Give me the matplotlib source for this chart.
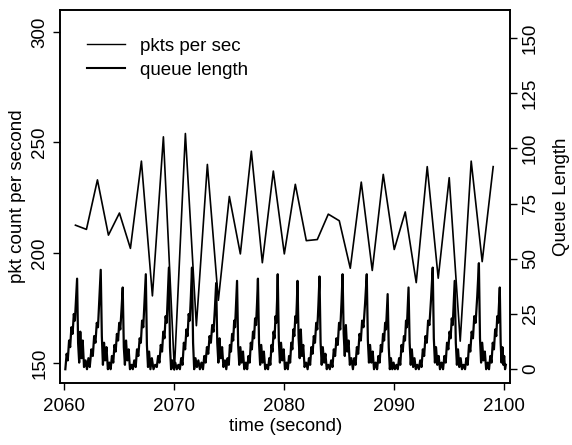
import matplotlib
matplotlib.use("Agg")
import matplotlib.pyplot as plt
from matplotlib.lines import Line2D

plt.rcParams["font.family"] = ["Liberation Sans", "DejaVu Sans"]
plt.rcParams["font.size"] = 13.5

# packets per second, one sample per second (left axis)
pkt_time = list(range(2061, 2100))
pkt_count = [212.5, 210.6, 233, 208, 218, 202, 241.5, 180.5, 252.5, 147,
             254, 167, 240, 178.5, 225.5, 199.5, 246, 195.5, 237, 199.5,
             231, 205.5, 206, 217.5, 214.5, 193, 232, 192, 235.5, 201.5,
             218.5, 186.5, 239, 188.5, 234, 160, 241.5, 196, 239]

# router queue length (right axis), one row per build-up / drain cycle
queue_time = [
    2060.08, 2060.20, 2060.30, 2060.42, 2060.52, 2060.63, 2060.74, 2060.85, 2060.95, 2061.05, 2061.15, 2061.24, 2061.34, 2061.44, 2061.55, 2061.66, 2061.78, 2061.92,
    2062.05, 2062.18, 2062.30, 2062.45, 2062.58, 2062.70, 2062.82, 2062.94, 2063.05, 2063.16, 2063.30, 2063.40, 2063.50, 2063.60, 2063.70, 2063.82, 2063.95, 2064.08,
    2064.20, 2064.32, 2064.44, 2064.55, 2064.66, 2064.77, 2064.88, 2064.98, 2065.08, 2065.19, 2065.30, 2065.40, 2065.50, 2065.60, 2065.72, 2065.84, 2065.96, 2066.10,
    2066.22, 2066.35, 2066.48, 2066.60, 2066.72, 2066.84, 2066.95, 2067.06, 2067.17, 2067.28, 2067.40, 2067.50, 2067.60, 2067.70, 2067.82, 2067.95, 2068.10, 2068.25,
    2068.40, 2068.52, 2068.64, 2068.76, 2068.88, 2068.99, 2069.10, 2069.20, 2069.30, 2069.40, 2069.50, 2069.60, 2069.70, 2069.82, 2069.95, 2070.08, 2070.22, 2070.36,
    2070.50, 2070.62, 2070.74, 2070.86, 2070.98, 2071.09, 2071.20, 2071.30, 2071.40, 2071.50, 2071.60, 2071.70, 2071.80, 2071.92, 2072.05, 2072.18, 2072.32, 2072.46,
    2072.60, 2072.72, 2072.84, 2072.96, 2073.08, 2073.20, 2073.32, 2073.44, 2073.56, 2073.68, 2073.80, 2073.90, 2074.00, 2074.10, 2074.22, 2074.34, 2074.46, 2074.60,
    2074.72, 2074.84, 2074.95, 2075.05, 2075.15, 2075.25, 2075.35, 2075.44, 2075.52, 2075.61, 2075.70, 2075.80, 2075.90, 2076.00, 2076.12, 2076.24, 2076.36, 2076.50,
    2076.62, 2076.74, 2076.85, 2076.95, 2077.05, 2077.15, 2077.25, 2077.34, 2077.43, 2077.52, 2077.60, 2077.70, 2077.80, 2077.90, 2078.02, 2078.14, 2078.26, 2078.40,
    2078.52, 2078.63, 2078.73, 2078.83, 2078.93, 2079.02, 2079.11, 2079.20, 2079.27, 2079.34, 2079.40, 2079.50, 2079.60, 2079.70, 2079.82, 2079.94, 2080.06, 2080.20,
    2080.32, 2080.43, 2080.53, 2080.63, 2080.73, 2080.82, 2080.91, 2081.00, 2081.07, 2081.14, 2081.20, 2081.30, 2081.40, 2081.50, 2081.60, 2081.72, 2081.84, 2081.98,
    2082.12, 2082.24, 2082.35, 2082.46, 2082.57, 2082.68, 2082.79, 2082.90, 2083.00, 2083.10, 2083.20, 2083.30, 2083.40, 2083.50, 2083.62, 2083.74, 2083.86, 2084.00,
    2084.14, 2084.26, 2084.38, 2084.50, 2084.62, 2084.74, 2084.86, 2084.98, 2085.09, 2085.20, 2085.30, 2085.40, 2085.50, 2085.60, 2085.72, 2085.84, 2085.96, 2086.10,
    2086.24, 2086.36, 2086.48, 2086.60, 2086.72, 2086.84, 2086.96, 2087.08, 2087.20, 2087.35, 2087.50, 2087.60, 2087.70, 2087.80, 2087.92, 2088.04, 2088.16, 2088.30,
    2088.44, 2088.56, 2088.67, 2088.78, 2088.88, 2088.98, 2089.08, 2089.17, 2089.25, 2089.33, 2089.40, 2089.50, 2089.60, 2089.70, 2089.82, 2089.94, 2090.06, 2090.20,
    2090.32, 2090.44, 2090.55, 2090.66, 2090.77, 2090.88, 2090.98, 2091.07, 2091.15, 2091.23, 2091.30, 2091.40, 2091.50, 2091.60, 2091.72, 2091.84, 2091.96, 2092.10,
    2092.24, 2092.36, 2092.48, 2092.60, 2092.72, 2092.84, 2092.96, 2093.08, 2093.20, 2093.35, 2093.50, 2093.60, 2093.70, 2093.80, 2093.92, 2094.04, 2094.16, 2094.30,
    2094.44, 2094.56, 2094.68, 2094.80, 2094.92, 2095.03, 2095.13, 2095.23, 2095.32, 2095.41, 2095.50, 2095.60, 2095.70, 2095.80, 2095.92, 2096.04, 2096.16, 2096.30,
    2096.44, 2096.56, 2096.68, 2096.80, 2096.92, 2097.04, 2097.16, 2097.28, 2097.40, 2097.55, 2097.70, 2097.80, 2097.90, 2098.00, 2098.12, 2098.24, 2098.36, 2098.50,
    2098.62, 2098.74, 2098.85, 2098.96, 2099.07, 2099.18, 2099.28, 2099.37, 2099.45, 2099.53, 2099.60, 2099.68, 2099.76, 2099.84, 2099.92, 2100.00, 2100.08, 2100.15,
]
queue_len = [
    0, 7, 4, 13, 10, 19, 16, 25, 22, 32, 41, 12, 3, 17, 5, 13, 1, 4,
    0, 5, 1, 9, 6, 15, 12, 21, 19, 30, 45, 15, 2, 12, 4, 10, 0, 3,
    0, 6, 3, 11, 8, 16, 13, 21, 18, 27, 37, 10, 2, 13, 4, 9, 0, 2,
    0, 4, 1, 9, 6, 14, 12, 22, 19, 30, 43, 11, 1, 8, 0, 5, 0, 2,
    1, 6, 3, 11, 8, 17, 14, 24, 21, 33, 46, 10, 0, 4, 0, 3, 0, 2,
    0, 5, 2, 12, 9, 18, 15, 25, 22, 33, 46, 12, 0, 5, 1, 4, 0, 3,
    0, 6, 3, 10, 7, 15, 12, 20, 17, 27, 39, 12, 3, 14, 5, 10, 1, 4,
    0, 5, 2, 11, 8, 16, 13, 22, 19, 29, 40, 11, 2, 10, 3, 8, 0, 3,
    0, 6, 3, 12, 9, 17, 14, 23, 20, 30, 41, 12, 2, 11, 3, 8, 0, 2,
    0, 5, 2, 11, 8, 17, 14, 24, 21, 31, 43, 13, 3, 12, 4, 9, 0, 3,
    0, 6, 3, 12, 9, 18, 15, 24, 21, 30, 40, 14, 5, 18, 6, 11, 1, 3,
    0, 5, 2, 10, 7, 15, 12, 21, 18, 29, 42, 12, 2, 10, 3, 7, 0, 2,
    0, 4, 1, 9, 6, 14, 11, 21, 18, 30, 43, 16, 6, 20, 8, 13, 2, 5,
    0, 5, 2, 10, 7, 16, 13, 22, 19, 30, 43, 13, 3, 11, 3, 8, 0, 3,
    0, 6, 3, 11, 8, 16, 13, 21, 18, 26, 34, 10, 0, 5, 0, 3, 0, 2,
    0, 5, 2, 11, 8, 15, 13, 22, 19, 28, 37, 12, 2, 9, 1, 5, 0, 2,
    0, 4, 1, 9, 6, 15, 12, 22, 20, 32, 46, 14, 3, 10, 2, 6, 0, 3,
    0, 6, 3, 12, 9, 17, 14, 23, 20, 30, 40, 12, 2, 9, 1, 5, 0, 2,
    0, 5, 2, 11, 8, 17, 14, 24, 21, 33, 48, 14, 3, 12, 4, 8, 0, 3,
    0, 6, 3, 12, 9, 18, 15, 24, 21, 29, 37, 12, 3, 10, 2, 6, 0, 2,
]

x_ticks = [2060, 2070, 2080, 2090, 2100]
left_ticks = [150, 200, 250, 300]
right_ticks = [0, 25, 50, 75, 100, 125, 150]

fig = plt.figure(figsize=(5.72, 4.45), dpi=100)
ax = fig.add_axes([0.105, 0.139, 0.787, 0.839])
ax2 = ax.twinx()

ax.plot(pkt_time, pkt_count, color="black", lw=1.2)
ax2.plot(queue_time, queue_len, color="black", lw=1.6)

ax.set_xlim(2059.6, 2100.55)
ax.set_ylim(141, 310)
ax2.set_ylim(-6.3, 162.7)

ax.set_xticks(x_ticks)
ax.set_yticks(left_ticks)
ax2.set_yticks(right_ticks)
for a in (ax, ax2):
    a.tick_params(direction="out", length=5, width=1, color="black")
    for s in a.spines.values():
        s.set_linewidth(1.2)
ax.tick_params(axis="x", pad=6)
for lab in ax.get_yticklabels() + ax2.get_yticklabels():
    lab.set_rotation(90)
    lab.set_va("center")

ax.set_xlabel("time (second)", labelpad=2)
ax.set_ylabel("pkt count per second", labelpad=4)
ax2.set_ylabel("Queue Length", rotation=90, labelpad=10)

handles = [Line2D([], [], color="black", lw=1.0),
           Line2D([], [], color="black", lw=1.5)]
ax.legend(handles, ["pkts per sec", "queue length"], loc="upper left",
          bbox_to_anchor=(0.04, 0.95), frameon=False, borderpad=0,
          handlelength=2.0, handletextpad=0.8, labelspacing=0.35)

fig.savefig("out.png", dpi=100)
